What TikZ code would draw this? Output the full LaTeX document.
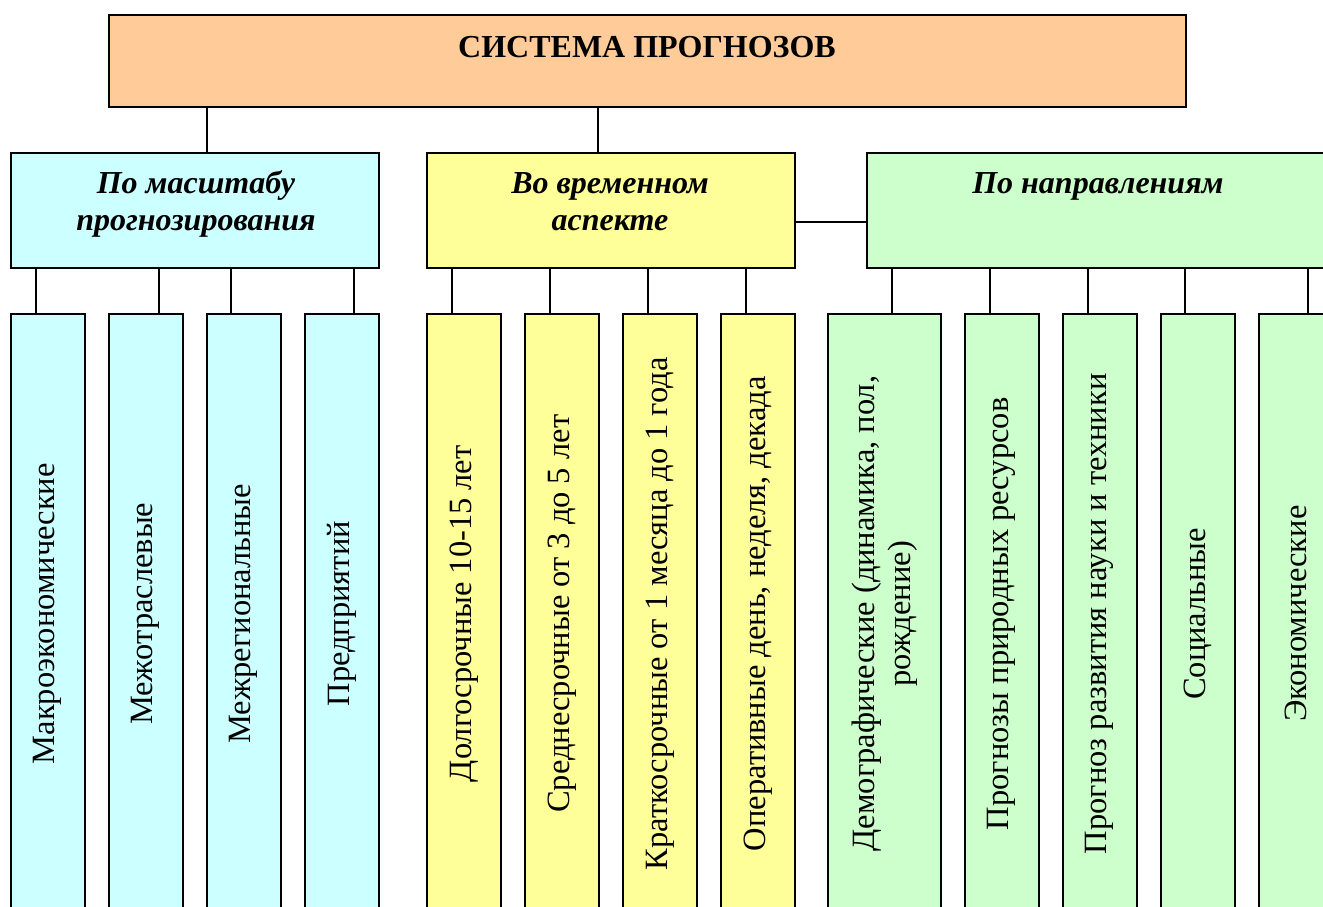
\documentclass[tikz,border=0pt]{standalone}
\usepackage{fontspec}
\setmainfont{Liberation Serif}
\usetikzlibrary{positioning}

\definecolor{sysorange}{HTML}{FFCC99}
\definecolor{scalecyan}{HTML}{CCFFFF}
\definecolor{timeyellow}{HTML}{FFFF99}
\definecolor{dirgreen}{HTML}{CCFFCC}

\begin{document}
\begin{tikzpicture}[x=1pt,y=-1pt]

\tikzset{
    box/.style={draw=black, line width=1.5pt, inner sep=0pt, anchor=north west},
    head/.style={box, minimum height=115pt},
    leaf/.style={box, minimum width=74pt, minimum height=600pt},
    headtext/.style={anchor=base, inner sep=0pt, align=center,
        font=\fontsize{32}{37}\selectfont\bfseries\itshape},
    leaftext/.style={rotate=90, inner sep=0pt, align=center,
        font=\fontsize{32.5}{36}\selectfont},
    link/.style={draw=black, line width=1.5pt},
}

\useasboundingbox (0,0) rectangle (1323,906);

%% System
\node[box, fill=sysorange, minimum width=1077pt, minimum height=92pt] (sys) at (108,14) {};
\node[anchor=base, inner sep=0pt, font=\fontsize{32}{37}\selectfont\bfseries] (systext) at (647,57) {СИСТЕМА ПРОГНОЗОВ};

%% Groups
\node[head, fill=scalecyan, minimum width=368pt] (masht) at (10,152) {};
\node[headtext] (mashttext) at (196,230) {По масштабу\\прогнозирования};

\node[head, fill=timeyellow, minimum width=368pt] (vrem) at (426,152) {};
\node[headtext] (vremtext) at (610,230) {Во временном\\аспекте};

\node[head, fill=dirgreen, minimum width=520pt] (napr) at (866,152) {};
\node[headtext] (naprtext) at (1098,193) {По направлениям};

\draw[link] ([xshift=12pt]masht.north) -- ([xshift=12pt]masht.north |- sys.south);
\draw[link] ([xshift=-13pt]vrem.north) -- ([xshift=-13pt]vrem.north |- sys.south);
\draw[link] ([yshift=-11.5pt]vrem.east) -- ([yshift=-11.5pt]vrem.east -| napr.west);

%% By scale
\node[leaf, fill=scalecyan] (m1) at (10,313) {};
\node[leaf, fill=scalecyan] (m2) at (108,313) {};
\node[leaf, fill=scalecyan] (m3) at (206,313) {};
\node[leaf, fill=scalecyan] (m4) at (304,313) {};
\node[leaftext] at (m1.center) {Макроэкономические};
\node[leaftext] at (m2.center) {Межотраслевые};
\node[leaftext] at (m3.center) {Межрегиональные};
\node[leaftext] at (m4.center) {Предприятий};

%% By time
\node[leaf, fill=timeyellow] (v1) at (426,313) {};
\node[leaf, fill=timeyellow] (v2) at (524,313) {};
\node[leaf, fill=timeyellow] (v3) at (622,313) {};
\node[leaf, fill=timeyellow] (v4) at (720,313) {};
\node[leaftext] at (v1.center) {Долгосрочные 10-15 лет};
\node[leaftext] at (v2.center) {Среднесрочные от 3 до 5 лет};
\node[leaftext] at (v3.center) {Краткосрочные от 1 месяца до 1 года};
\node[leaftext] at (v4.center) {Оперативные день, неделя, декада};

%% By direction
\node[leaf, fill=dirgreen, minimum width=113pt] (n1) at (827,313) {};
\node[leaf, fill=dirgreen] (n2) at (964,313) {};
\node[leaf, fill=dirgreen] (n3) at (1062,313) {};
\node[leaf, fill=dirgreen] (n4) at (1160,313) {};
\node[leaf, fill=dirgreen] (n5) at (1258,313) {};
\node[leaftext] at (n1.center) {Демографические (динамика, пол,\\рождение)};
\node[leaftext] at (n2.center) {Прогнозы природных ресурсов};
\node[leaftext] at (n3.center) {Прогноз развития науки и техники};
\node[leaftext] at (n4.center) {Социальные};
\node[leaftext] at (n5.center) {Экономические};

% connectors down to the leaves
\foreach \leaf/\parent/\dx in {m1/masht/-12, m2/masht/13, m3/masht/-13, m4/masht/12,
    v1/vrem/-12, v2/vrem/-12, v3/vrem/-12, v4/vrem/-12,
    n1/napr/7.5, n2/napr/-12, n3/napr/-12, n4/napr/-13, n5/napr/12}{
    \draw[link] ([xshift=\dx pt]\leaf.north) -- ([xshift=\dx pt]\leaf.north |- \parent.south);
}

\end{tikzpicture}
\end{document}
